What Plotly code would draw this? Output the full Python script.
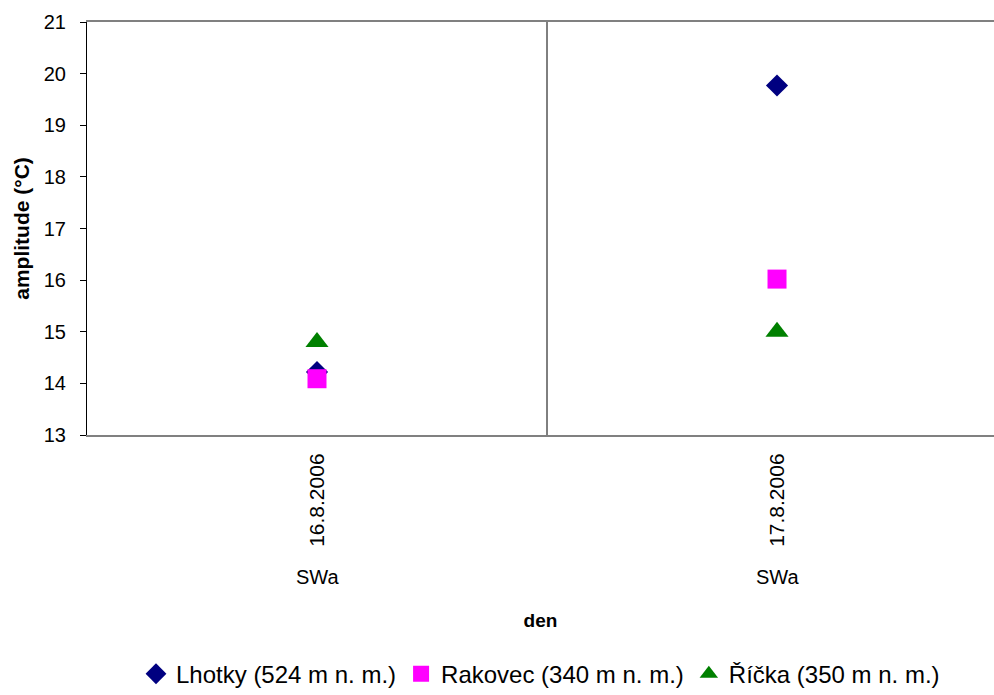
import plotly.graph_objects as go

dates = ["16.8.2006", "17.8.2006"]
group_label = "SWa"
lhotky = [14.22, 19.77]
rakovec = [14.09, 16.02]
ricka = [14.8, 15.0]

series = [
    ("Lhotky (524 m n. m.)", lhotky, "diamond", "#000080", 17),
    ("Rakovec (340 m n. m.)", rakovec, "square", "#FF00FF", 19),
    ("Říčka (350 m n. m.)", ricka, "triangle-up", "#008000", 20),
]

FONT = "Liberation Sans, Arial, sans-serif"
fig = go.Figure()
for name, vals, sym, col, sz in series:
    fig.add_trace(go.Scatter(
        x=dates, y=vals, mode="markers", name=name,
        marker=dict(symbol=sym, color=col, size=sz, line=dict(width=0)),
    ))

# divider between categories
fig.add_shape(type="line", xref="x", yref="paper", x0=0.5, x1=0.5, y0=0, y1=1,
              line=dict(color="black", width=1))

for d in dates:
    fig.add_annotation(x=d, xref="x", yref="paper", y=-0.344, text=group_label,
                       showarrow=False, yanchor="middle",
                       font=dict(family=FONT, size=20, color="black"))

fig.update_layout(
    width=994, height=695,
    margin=dict(l=87, r=0, t=22, b=260),
    paper_bgcolor="white", plot_bgcolor="white",
    font=dict(family=FONT, size=20, color="black"),
    showlegend=True,
    legend=dict(orientation="h", x=0.5, xanchor="center",
                yref="container", y=0.03, yanchor="middle",
                font=dict(family=FONT, size=24, color="black"),
                itemwidth=30, tracegroupgap=0),
    xaxis=dict(type="category", range=[-0.5, 1.4717], showgrid=False, automargin=False,
               showline=True, linecolor="#808080", linewidth=2, mirror=True,
               ticks="", tickangle=-90, ticklabelstandoff=8,
               tickfont=dict(family=FONT, size=21),
               title=dict(text="<b>den</b>", font=dict(family=FONT, size=19), standoff=68),
               zeroline=False),
    yaxis=dict(range=[13, 21], dtick=1, showgrid=False, automargin=False,
               showline=True, linecolor="black", linewidth=1,
               ticks="outside", ticklen=6, tickcolor="black", ticklabelstandoff=10,
               tickfont=dict(family=FONT, size=20),
               title=dict(text="<b>amplitude (°C)</b>", font=dict(family=FONT, size=21), standoff=8),
               zeroline=False),
)

fig.write_html("out.html")
